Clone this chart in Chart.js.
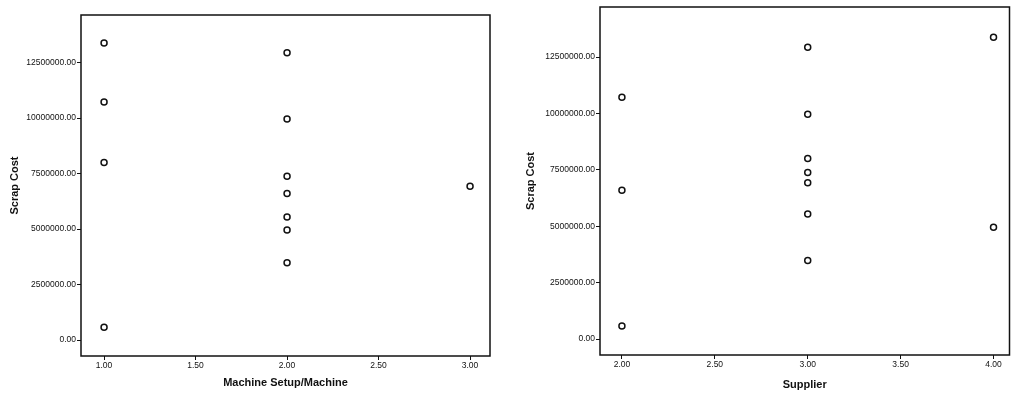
<!DOCTYPE html>
<html>
<head>
<meta charset="utf-8">
<script src="https://cdn.jsdelivr.net/npm/chart.js@4.4.1/dist/chart.umd.min.js"></script>
<style>
  html, body { margin: 0; padding: 0; background: #ffffff; }
  #wrap { position: relative; width: 1014px; height: 394px; overflow: hidden; }
  .panel { position: absolute; top: 0; width: 507px; height: 394px; }
  #left { left: 0; }
  #right { left: 507px; }
</style>
</head>
<body>
<div id="wrap">
  <div class="panel" id="left"><canvas id="cLeft" width="507" height="394"></canvas></div>
  <div class="panel" id="right"><canvas id="cRight" width="507" height="394"></canvas></div>
</div>
<script>
// Scrap cost per case, with the machine setup ratio and supplier code of each case
const scrapCost = [13380000, 10720000, 8000000, 580000, 12940000, 9960000, 7380000, 6600000, 5540000, 4960000, 3480000, 6930000];
const machineSetup = [1, 1, 1, 1, 2, 2, 2, 2, 2, 2, 2, 3];
const supplier = [4, 2, 3, 2, 3, 3, 3, 2, 3, 4, 3, 3];

const costTicks = [0, 2500000, 5000000, 7500000, 10000000, 12500000];
const machineTicks = [1.0, 1.5, 2.0, 2.5, 3.0];
const supplierTicks = [2.0, 2.5, 3.0, 3.5, 4.0];

const FONT = "'Liberation Sans', Arial, sans-serif";

// Draws the closed frame around the plot area
const framePlugin = {
  id: 'frame',
  afterDraw(chart) {
    const { ctx, chartArea: a } = chart;
    ctx.save();
    ctx.strokeStyle = '#111';
    ctx.lineWidth = 1.5;
    ctx.strokeRect(a.left, a.top, a.right - a.left, a.bottom - a.top);
    ctx.restore();
  }
};

function makeScatter(canvasId, xs, xTicks, xTitle, cfg) {
  const points = xs.map((x, i) => ({ x: x, y: scrapCost[i] }));
  return new Chart(document.getElementById(canvasId), {
    type: 'scatter',
    data: {
      datasets: [{
        data: points,
        pointStyle: 'circle',
        pointRadius: 3,
        pointHoverRadius: 3,
        pointBorderWidth: 1.5,
        pointBorderColor: '#111',
        pointBackgroundColor: '#ffffff'
      }]
    },
    plugins: [framePlugin],
    options: {
      responsive: false,
      animation: false,
      events: [],
      layout: { padding: { top: cfg.top, right: cfg.right, left: 0, bottom: 0 } },
      plugins: { legend: { display: false }, tooltip: { enabled: false } },
      scales: {
        x: {
          type: 'linear',
          min: cfg.xMin,
          max: cfg.xMax,
          afterBuildTicks(scale) { scale.ticks = xTicks.map(v => ({ value: v })); },
          afterFit(scale) { scale.height = cfg.xHeight; },
          border: { display: false },
          grid: { drawOnChartArea: false, drawTicks: true, tickLength: 4, color: '#111', lineWidth: 1 },
          ticks: {
            color: '#111',
            padding: 1,
            maxRotation: 0,
            font: { family: FONT, size: 8.5 },
            callback: v => Number(v).toFixed(2)
          },
          title: {
            display: true,
            text: xTitle,
            color: '#111',
            font: { family: FONT, size: 11, weight: 'bold' },
            padding: { top: 0, bottom: cfg.xTitlePad }
          }
        },
        y: {
          type: 'linear',
          min: cfg.yMin,
          max: cfg.yMax,
          afterBuildTicks(scale) { scale.ticks = costTicks.map(v => ({ value: v })); },
          afterFit(scale) { scale.width = cfg.yWidth; },
          border: { display: false },
          grid: { drawOnChartArea: false, drawTicks: true, tickLength: 4, color: '#111', lineWidth: 1 },
          ticks: {
            color: '#111',
            padding: 1,
            font: { family: FONT, size: 8.5 },
            callback: v => Number(v).toFixed(2)
          },
          title: {
            display: true,
            text: 'Scrap Cost',
            color: '#111',
            font: { family: FONT, size: 11, weight: 'bold' },
            padding: { top: cfg.yTitlePad, bottom: 0 }
          }
        }
      }
    }
  });
}

makeScatter('cLeft', machineSetup, machineTicks, 'Machine Setup/Machine', {
  top: 15, right: 17, xHeight: 38, yWidth: 81,
  xMin: 0.874, xMax: 3.109, yMin: -720000, yMax: 14640000,
  xTitlePad: 4.4, yTitlePad: 8.4
});

makeScatter('cRight', supplier, supplierTicks, 'Supplier', {
  top: 7, right: 3, xHeight: 39, yWidth: 93,
  xMin: 1.882, xMax: 4.086, yMin: -709000, yMax: 14720000,
  xTitlePad: 2.4, yTitlePad: 17.4
});
</script>
</body>
</html>
